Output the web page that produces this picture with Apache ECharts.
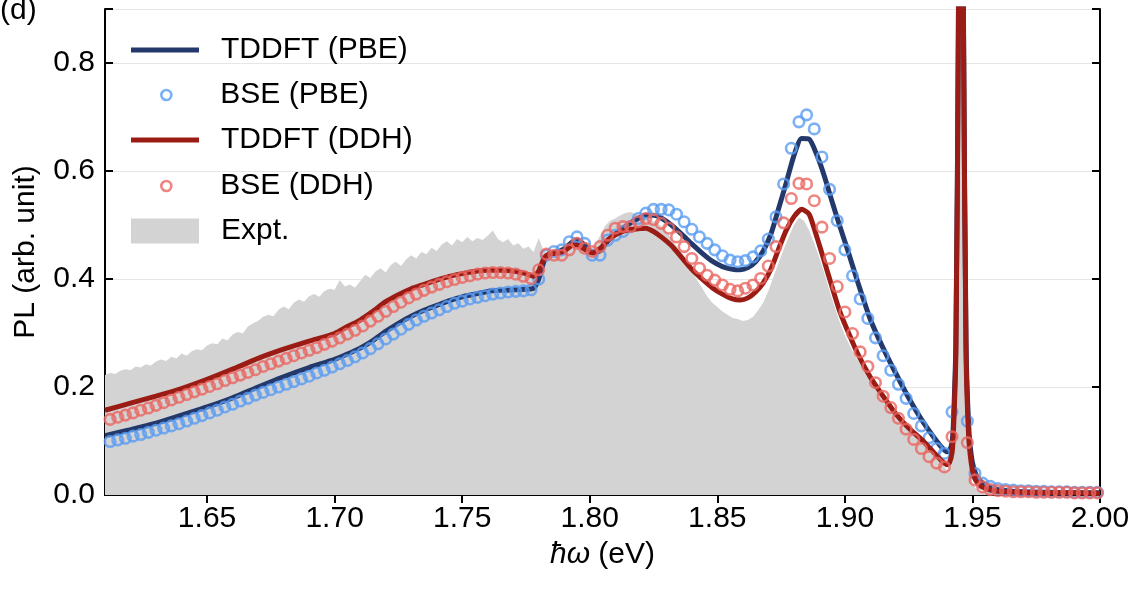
<!doctype html>
<html>
<head>
<meta charset="UTF-8">
<script src="https://cdn.jsdelivr.net/npm/echarts@6/dist/echarts.min.js"></script>
<style>
  html, body { margin: 0; padding: 0; background: #fff; }
  #plchart { width: 1140px; height: 590px; }
</style>
</head>
<body>
<div id="plchart"></div>
<script>
// tick labels on the energy axis
var xTicks = [1.65, 1.70, 1.75, 1.80, 1.85, 1.90, 1.95, 2.00];

// TDDFT spectra (eV, arb. unit)
var tddftEnergy = [1.610,1.620,1.630,1.640,1.650,1.660,1.670,1.680,1.690,1.700,
    1.705,1.710,1.715,1.720,1.725,1.730,1.735,1.740,1.745,1.750,
    1.755,1.760,1.765,1.770,1.775,1.778,1.780,1.782,1.784,1.787,
    1.790,1.793,1.795,1.798,1.801,1.804,1.807,1.810,1.813,1.816,
    1.819,1.822,1.825,1.828,1.832,1.836,1.840,1.844,1.848,1.852,
    1.856,1.859,1.862,1.865,1.868,1.871,1.874,1.877,1.880,1.883,
    1.886,1.889,1.892,1.895,1.898,1.901,1.905,1.910,1.915,1.920,
    1.925,1.930,1.935,1.938,1.940,1.941,1.942,1.9425,1.9435,1.9445,
    1.9455,1.9465,1.9475,1.9485,1.9495,1.9505,1.952,1.955,1.960,1.970,
    1.980,1.990,2.000];
var tddftPbe = [0.110,0.121,0.133,0.148,0.163,0.180,0.200,0.219,0.236,0.251,
    0.261,0.272,0.286,0.303,0.318,0.331,0.342,0.351,0.360,0.367,
    0.372,0.377,0.379,0.380,0.381,0.383,0.400,0.432,0.446,0.450,
    0.456,0.468,0.472,0.463,0.449,0.452,0.470,0.483,0.494,0.504,
    0.512,0.518,0.518,0.513,0.500,0.483,0.465,0.448,0.433,0.423,
    0.418,0.417,0.421,0.432,0.452,0.483,0.530,0.578,0.628,0.660,
    0.659,0.630,0.590,0.543,0.498,0.455,0.395,0.325,0.272,0.225,
    0.180,0.140,0.106,0.088,0.080,0.082,0.098,0.130,0.280,0.880,
    2.600,0.880,0.280,0.130,0.075,0.050,0.032,0.018,0.010,0.006,
    0.005,0.004,0.004];
var tddftDdh = [0.157,0.170,0.183,0.197,0.214,0.233,0.253,0.270,0.285,0.299,
    0.312,0.324,0.340,0.358,0.371,0.382,0.390,0.398,0.405,0.410,
    0.414,0.416,0.416,0.415,0.410,0.405,0.415,0.438,0.446,0.448,
    0.452,0.462,0.463,0.455,0.448,0.456,0.472,0.482,0.488,0.492,
    0.493,0.494,0.488,0.478,0.462,0.440,0.418,0.400,0.384,0.372,
    0.363,0.361,0.365,0.376,0.393,0.418,0.455,0.490,0.515,0.529,
    0.520,0.478,0.432,0.385,0.340,0.305,0.262,0.218,0.183,0.150,
    0.124,0.103,0.078,0.063,0.056,0.060,0.078,0.110,0.260,0.860,
    2.600,0.860,0.260,0.110,0.060,0.036,0.022,0.012,0.007,0.005,
    0.004,0.004,0.003];

// BSE spectra, sampled every 3 meV
var bseEnergy = [1.612,1.615,1.618,1.621,1.624,1.627,1.630,1.633,1.636,1.639,
    1.642,1.645,1.648,1.651,1.654,1.657,1.660,1.663,1.666,1.669,
    1.672,1.675,1.678,1.681,1.684,1.687,1.690,1.693,1.696,1.699,
    1.702,1.705,1.708,1.711,1.714,1.717,1.720,1.723,1.726,1.729,
    1.732,1.735,1.738,1.741,1.744,1.747,1.750,1.753,1.756,1.759,
    1.762,1.765,1.768,1.771,1.774,1.777,1.780,1.783,1.786,1.789,
    1.792,1.795,1.798,1.801,1.804,1.807,1.810,1.813,1.816,1.819,
    1.822,1.825,1.828,1.831,1.834,1.837,1.840,1.843,1.846,1.849,
    1.852,1.855,1.858,1.861,1.864,1.867,1.870,1.873,1.876,1.879,
    1.882,1.885,1.888,1.891,1.894,1.897,1.900,1.903,1.906,1.909,
    1.912,1.915,1.918,1.921,1.924,1.927,1.930,1.933,1.936,1.939,
    1.942,1.945,1.948,1.951,1.954,1.957,1.960,1.963,1.966,1.969,
    1.972,1.975,1.978,1.981,1.984,1.987,1.990,1.993,1.996,1.999];
var bsePbe = [0.099,0.102,0.105,0.109,0.112,0.116,0.120,0.124,0.128,0.132,
    0.137,0.142,0.147,0.152,0.157,0.163,0.168,0.174,0.179,0.185,
    0.190,0.195,0.200,0.205,0.210,0.215,0.220,0.226,0.231,0.237,
    0.243,0.249,0.256,0.263,0.271,0.280,0.289,0.298,0.307,0.316,
    0.324,0.331,0.337,0.343,0.349,0.355,0.359,0.363,0.366,0.369,
    0.372,0.374,0.376,0.377,0.378,0.380,0.400,0.444,0.451,0.454,
    0.469,0.478,0.466,0.444,0.444,0.472,0.481,0.488,0.497,0.512,
    0.522,0.529,0.529,0.528,0.520,0.506,0.492,0.478,0.466,0.454,
    0.443,0.435,0.432,0.434,0.441,0.452,0.474,0.515,0.576,0.642,
    0.691,0.704,0.678,0.626,0.566,0.508,0.454,0.406,0.363,0.327,
    0.291,0.258,0.231,0.205,0.179,0.151,0.128,0.106,0.086,0.077,
    0.154,1.900,0.137,0.040,0.022,0.016,0.012,0.010,0.009,0.008,
    0.008,0.007,0.007,0.006,0.006,0.006,0.005,0.005,0.005,0.005];
var bseDdh = [0.140,0.144,0.148,0.152,0.157,0.161,0.166,0.171,0.176,0.181,
    0.186,0.191,0.196,0.201,0.206,0.212,0.217,0.222,0.227,0.232,
    0.238,0.243,0.248,0.253,0.258,0.263,0.268,0.273,0.279,0.285,
    0.291,0.298,0.305,0.313,0.322,0.331,0.340,0.349,0.357,0.365,
    0.372,0.379,0.385,0.390,0.395,0.399,0.403,0.406,0.409,0.411,
    0.412,0.412,0.411,0.409,0.405,0.401,0.417,0.446,0.444,0.444,
    0.454,0.466,0.457,0.451,0.460,0.481,0.494,0.497,0.497,0.506,
    0.512,0.510,0.503,0.494,0.478,0.460,0.438,0.420,0.407,0.398,
    0.389,0.381,0.378,0.383,0.389,0.401,0.424,0.460,0.504,0.549,
    0.577,0.576,0.545,0.496,0.438,0.386,0.339,0.299,0.265,0.238,
    0.208,0.183,0.162,0.142,0.122,0.103,0.086,0.071,0.059,0.052,
    0.108,1.600,0.097,0.028,0.015,0.010,0.008,0.007,0.006,0.006,
    0.006,0.005,0.005,0.005,0.005,0.005,0.004,0.004,0.004,0.004];

// measured PL
var exptEnergy = [1.610,1.612,1.614,1.616,1.618,1.620,1.622,1.624,1.626,1.628,
    1.630,1.632,1.634,1.636,1.638,1.640,1.642,1.644,1.646,1.648,
    1.650,1.652,1.654,1.656,1.658,1.660,1.662,1.664,1.666,1.668,
    1.670,1.672,1.674,1.676,1.678,1.680,1.682,1.684,1.686,1.688,
    1.690,1.692,1.694,1.696,1.698,1.700,1.702,1.704,1.706,1.708,
    1.710,1.712,1.714,1.716,1.718,1.720,1.722,1.724,1.726,1.728,
    1.730,1.732,1.734,1.736,1.738,1.740,1.742,1.744,1.746,1.748,
    1.750,1.752,1.754,1.756,1.758,1.760,1.762,1.764,1.766,1.768,
    1.770,1.772,1.774,1.776,1.778,1.780,1.782,1.784,1.786,1.788,
    1.790,1.792,1.794,1.796,1.798,1.800,1.802,1.804,1.806,1.808,
    1.810,1.812,1.814,1.816,1.818,1.820,1.822,1.824,1.826,1.828,
    1.830,1.832,1.834,1.836,1.838,1.840,1.842,1.844,1.846,1.848,
    1.850,1.852,1.854,1.856,1.858,1.860,1.862,1.864,1.866,1.868,
    1.870,1.872,1.874,1.876,1.878,1.880,1.882,1.884,1.886,1.888,
    1.890,1.892,1.894,1.896,1.898,1.900,1.902,1.904,1.906,1.908,
    1.910,1.912,1.914,1.916,1.918,1.920,1.922,1.924,1.926,1.928,
    1.930,1.932,1.934,1.936,1.938,1.940,1.941,1.942,1.943,1.944,
    1.945,1.9455,1.946,1.947,1.948,1.949,1.950,1.952,1.956,1.960,
    1.970,1.980,1.990,2.000];
var exptPL = [0.222,0.226,0.224,0.230,0.233,0.231,0.238,0.236,0.242,0.240,
    0.247,0.251,0.248,0.256,0.253,0.262,0.258,0.266,0.270,0.268,
    0.277,0.281,0.279,0.290,0.286,0.297,0.302,0.299,0.312,0.318,
    0.322,0.330,0.334,0.331,0.343,0.349,0.344,0.356,0.362,0.358,
    0.368,0.372,0.367,0.378,0.382,0.380,0.398,0.386,0.390,0.384,
    0.396,0.408,0.402,0.414,0.420,0.412,0.426,0.432,0.424,0.436,
    0.444,0.438,0.450,0.446,0.458,0.452,0.464,0.470,0.462,0.474,
    0.468,0.478,0.470,0.476,0.472,0.480,0.490,0.474,0.468,0.474,
    0.462,0.466,0.456,0.460,0.450,0.476,0.452,0.446,0.450,0.456,
    0.462,0.470,0.478,0.474,0.466,0.456,0.462,0.480,0.498,0.508,
    0.512,0.518,0.522,0.524,0.520,0.516,0.512,0.508,0.506,0.498,
    0.488,0.475,0.460,0.445,0.430,0.414,0.398,0.384,0.368,0.356,
    0.348,0.340,0.334,0.328,0.326,0.322,0.324,0.330,0.342,0.356,
    0.378,0.404,0.430,0.455,0.478,0.500,0.514,0.508,0.490,0.466,
    0.440,0.410,0.378,0.348,0.320,0.296,0.276,0.258,0.242,0.228,
    0.212,0.198,0.184,0.171,0.158,0.146,0.136,0.127,0.118,0.108,
    0.098,0.089,0.079,0.070,0.058,0.046,0.048,0.070,0.160,0.420,
    0.950,1.200,1.000,0.450,0.150,0.060,0.020,0.008,0.004,0.003,
    0.002,0.002,0.002,0.002];

function pairs(xs, ys) {
    return xs.map(function (x, i) { return [x, ys[i]]; });
}

var FONT = 'Liberation Sans';
var navy = '#24396b', lightBlue = '#5a9cf2', darkRed = '#9b1c14', pink = '#ea6661', grey = '#d3d3d3';

// one legend box per entry, so each can have its own icon size
function legendBox(name, left, top, w, h, gap, icon, style) {
    return {
        data: [{ name: name, icon: icon, itemStyle: style }],
        left: left, top: top, padding: 0,
        itemWidth: w, itemHeight: h,
        selectedMode: false,
        textStyle: { fontSize: 30, fontFamily: FONT, color: '#000', padding: [0, 0, 0, gap] }
    };
}

var chart = echarts.init(document.getElementById('plchart'));
var option = {
    animation: false,
    backgroundColor: '#fff',
    grid: { left: 105, right: 40, top: 9, bottom: 95 },
    graphic: [{
        type: 'text', left: 0, top: -4,
        style: { text: '(d)', fontSize: 30, fontFamily: FONT, fill: '#000' }
    }],
    legend: [
        legendBox('TDDFT (PBE)', 131, 35, 68, 5, 17, 'rect', { color: navy, borderWidth: 0 }),
        legendBox('BSE (PBE)', 160, 80, 10, 10, 44, 'circle', { color: 'rgba(255,255,255,0)', borderColor: lightBlue, borderWidth: 2.6 }),
        legendBox('TDDFT (DDH)', 131, 125, 68, 5, 17, 'rect', { color: darkRed, borderWidth: 0 }),
        legendBox('BSE (DDH)', 160, 171, 10, 10, 44, 'circle', { color: 'rgba(255,255,255,0)', borderColor: pink, borderWidth: 2.6 }),
        legendBox('Expt.', 131, 216, 68, 25, 17, 'rect', { color: grey, borderWidth: 0 })
    ],
    xAxis: [{
        type: 'value', min: 1.61, max: 2.0, position: 'bottom',
        axisLine: { show: true, lineStyle: { color: '#000', width: 2 } },
        axisTick: { show: true, inside: true, length: 8, customValues: xTicks, lineStyle: { color: '#000', width: 2 } },
        axisLabel: {
            customValues: xTicks, margin: 9, fontSize: 30, fontFamily: FONT, color: '#000',
            formatter: function (v) { return v.toFixed(2); }
        },
        splitLine: { show: false },
        name: '{i|ħω} (eV)', nameLocation: 'middle', nameGap: 45,
        nameTextStyle: {
            fontSize: 30, fontFamily: FONT, color: '#000',
            rich: { i: { fontStyle: 'italic', fontSize: 30, fontFamily: FONT, color: '#000' } }
        }
    }, {
        type: 'value', min: 1.61, max: 2.0, position: 'top',
        axisLine: { show: true, lineStyle: { color: '#000', width: 2 } },
        axisTick: { show: true, inside: true, length: 8, customValues: xTicks, lineStyle: { color: '#000', width: 2 } },
        axisLabel: { show: false },
        splitLine: { show: false }
    }],
    yAxis: [{
        type: 'value', min: 0, max: 0.9, interval: 0.2, position: 'left',
        axisLine: { show: true, lineStyle: { color: '#000', width: 2 } },
        axisTick: { show: true, inside: true, length: 8, lineStyle: { color: '#000', width: 2 } },
        axisLabel: {
            margin: 10, fontSize: 30, fontFamily: FONT, color: '#000',
            formatter: function (v) { return Math.abs(v - 0.9) < 1e-6 ? '' : v.toFixed(1); }
        },
        splitLine: { show: true, lineStyle: { color: '#e6e6e6', width: 1.2 } },
        name: 'PL (arb. unit)', nameLocation: 'middle', nameGap: 64,
        nameTextStyle: { fontSize: 30, fontFamily: FONT, color: '#000' }
    }, {
        type: 'value', min: 0, max: 0.9, interval: 0.2, position: 'right',
        axisLine: { show: true, lineStyle: { color: '#000', width: 2 } },
        axisTick: { show: true, inside: true, length: 8, lineStyle: { color: '#000', width: 2 } },
        axisLabel: { show: false },
        splitLine: { show: false }
    }],
    series: [
        {
            name: 'Expt.', type: 'line', data: pairs(exptEnergy, exptPL),
            symbol: 'none', z: 1, clip: true,
            lineStyle: { width: 0, color: grey }, itemStyle: { color: grey },
            areaStyle: { color: grey, opacity: 1 }
        },
        {
            name: 'TDDFT (PBE)', type: 'line', data: pairs(tddftEnergy, tddftPbe),
            symbol: 'none', smooth: 0.2, z: 2, clip: true,
            lineStyle: { width: 5, color: navy }, itemStyle: { color: navy }
        },
        {
            name: 'BSE (PBE)', type: 'scatter', data: pairs(bseEnergy, bsePbe),
            symbol: 'circle', symbolSize: 10.5, z: 3, clip: true,
            itemStyle: { color: 'rgba(255,255,255,0)', borderColor: lightBlue, borderWidth: 2.6 }
        },
        {
            name: 'TDDFT (DDH)', type: 'line', data: pairs(tddftEnergy, tddftDdh),
            symbol: 'none', smooth: 0.2, z: 4, clip: true,
            lineStyle: { width: 5, color: darkRed }, itemStyle: { color: darkRed }
        },
        {
            name: 'BSE (DDH)', type: 'scatter', data: pairs(bseEnergy, bseDdh),
            symbol: 'circle', symbolSize: 10.5, z: 5, clip: true,
            itemStyle: { color: 'rgba(255,255,255,0)', borderColor: pink, borderWidth: 2.6 }
        }
    ]
};
chart.setOption(option);
</script>
</body>
</html>
